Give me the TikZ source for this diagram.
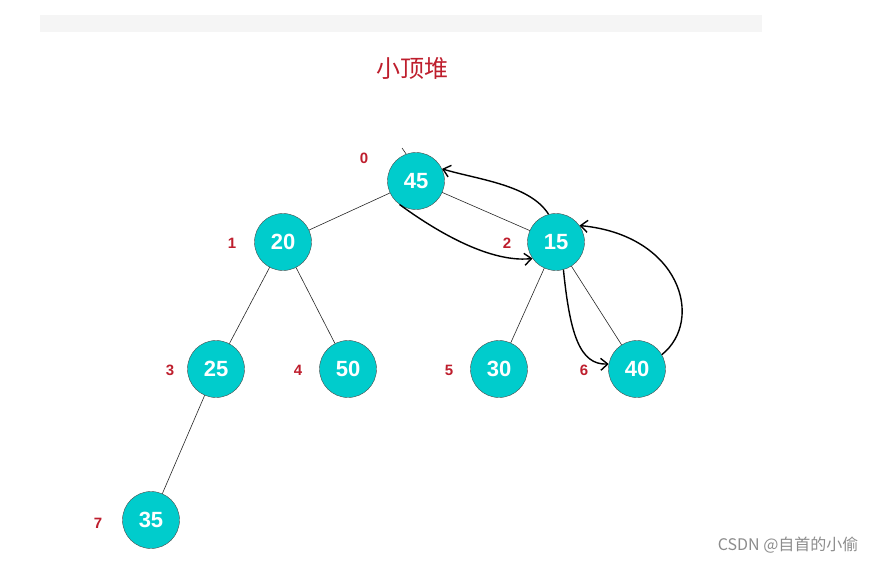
\documentclass[tikz,border=0pt]{standalone}
\usepackage{fontspec}
\setmainfont{Liberation Sans}
\newfontfamily\cjk{Noto Sans CJK SC}
\usetikzlibrary{arrows.meta}
\definecolor{heapcyan}{RGB}{0,204,204}
\definecolor{idxred}{RGB}{190,30,45}
\tikzset{
  heapnode/.style={circle,draw=black!70,thin,fill=heapcyan,minimum size=57pt,inner sep=0pt,
    text=white,font=\fontsize{22}{22}\selectfont\bfseries},
  idx/.style={text=idxred,font=\fontsize{15}{15}\selectfont\bfseries},
  hand/.style={black,line width=1.4pt,-{Straight Barb[length=7pt,width=12pt]}}
}
\begin{document}
\begin{tikzpicture}[x=1pt,y=-1pt]
\useasboundingbox (0,0) rectangle (877,564);
\fill[black!4] (40,15) rectangle (762,32);
\node[text=idxred,font=\cjk\fontsize{24}{24}\selectfont] (title) at (412,68) {小顶堆};

% heap nodes
\node[heapnode] (n45) at (416,181) {45};
\node[heapnode] (n20) at (283,242) {20};
\node[heapnode] (n15) at (556,242) {15};
\node[heapnode] (n25) at (216,369) {25};
\node[heapnode] (n50) at (348,369) {50};
\node[heapnode] (n30) at (499,369) {30};
\node[heapnode] (n40) at (637,369) {40};
\node[heapnode] (n35) at (151,520) {35};

% index labels
\node[idx] (i0) at (364,158) {0};
\node[idx] (i1) at (232,243) {1};
\node[idx] (i2) at (507,243) {2};
\node[idx] (i3) at (170,370) {3};
\node[idx] (i4) at (298,370) {4};
\node[idx] (i5) at (449,370) {5};
\node[idx] (i6) at (584,370) {6};
\node[idx] (i7) at (98,523) {7};

% edges
\foreach \a/\b in {n45/n20,n45/n15,n20/n25,n20/n50,n15/n30,n15/n40,n25/n35}
  \draw[black!85,semithick] (\a) -- (\b);
\coordinate (tick) at (402,148);
\draw[black!85,semithick] (tick) -- (n45.110);

% hand drawn swaps
\draw[hand] (n45.235) .. controls (455,245) and (500,262) .. (n15.215);
\draw[hand] (n15.105) .. controls (530,185) and (480,180) .. (n45.25);
\draw[hand] (n15.285) .. controls (570,335) and (580,365) .. (n40.170);
\draw[hand] (n40.30) .. controls (705,320) and (680,235) .. (n15.35);

\node[text=black!45,font=\cjk\fontsize{16}{16}\selectfont,anchor=east] (mark) at (862,545) {CSDN @自首的小偷};
\end{tikzpicture}
\end{document}
